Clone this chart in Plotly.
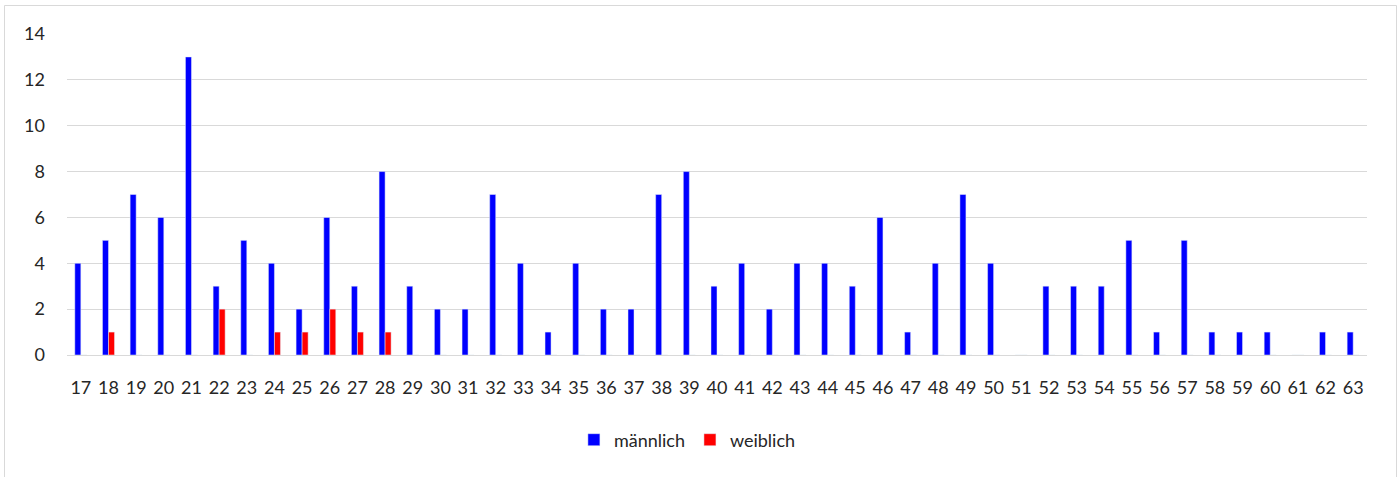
import plotly.graph_objects as go

ages = [str(a) for a in range(17, 64)]
maennlich = [4, 5, 7, 6, 13, 3, 5, 4, 2, 6, 3, 8, 3, 2, 2, 7, 4, 1, 4, 2, 2, 7, 8, 3, 4, 2, 4, 4, 3, 6,
             1, 4, 7, 4, 0, 3, 3, 3, 5, 1, 5, 1, 1, 1, 0, 1, 1]
weiblich = [0, 1, 0, 0, 0, 2, 0, 1, 1, 2, 1, 1, 0, 0, 0, 0, 0, 0, 0, 0, 0, 0, 0, 0, 0, 0, 0, 0, 0, 0,
            0, 0, 0, 0, 0, 0, 0, 0, 0, 0, 0, 0, 0, 0, 0, 0, 0]
y_ticks = [0, 2, 4, 6, 8, 10, 12, 14]

W, H = 1400, 477
L, T = 67, 34
pw, ph = 1300, 321
R = W - L - pw
B = H - T - ph

fig = go.Figure()
fig.add_trace(go.Bar(x=ages, y=maennlich, name="männlich", marker_color="#0000FF"))
fig.add_trace(go.Bar(x=ages, y=weiblich, name="weiblich", marker_color="#FF0000"))

# outer chart border (light gray)
fig.add_shape(type="rect", xref="paper", yref="paper",
              x0=(4.5 - L) / pw, x1=(1396.5 - L) / pw,
              y0=(H - 520 - B) / ph, y1=(H - 5.5 - B) / ph,
              line=dict(color="#D9D9D9", width=1), fillcolor="rgba(0,0,0,0)", layer="below")

fig.update_layout(
    width=W, height=H,
    margin=dict(l=L, r=R, t=T, b=B, pad=0),
    paper_bgcolor="white", plot_bgcolor="white",
    barmode="group", bargap=0.565, bargroupgap=0,
    font=dict(family="Lato, Carlito, sans-serif", size=18, color="#262626"),
    showlegend=True,
    legend=dict(orientation="h", x=(703 - L) / pw - 0.012, xanchor="center",
                y=(355 - 440) / ph, yanchor="middle",
                font=dict(size=18, color="#262626"), traceorder="normal"),
    xaxis=dict(type="category", showgrid=False, showline=True, linecolor="#D9D9D9", linewidth=1,
               ticks="", ticklabelstandoff=16, tickangle=0, tickfont=dict(size=18, color="#262626")),
    yaxis=dict(range=[0, 14], tickvals=y_ticks, showgrid=True, gridcolor="#D9D9D9", gridwidth=1,
               zeroline=False, showline=False, ticks="", ticklabelstandoff=21,
               tickfont=dict(size=18, color="#262626")),
)

fig.write_html("out.html", config={"displayModeBar": False},
               post_script="document.body.style.margin='0';document.body.style.overflow='hidden';")
